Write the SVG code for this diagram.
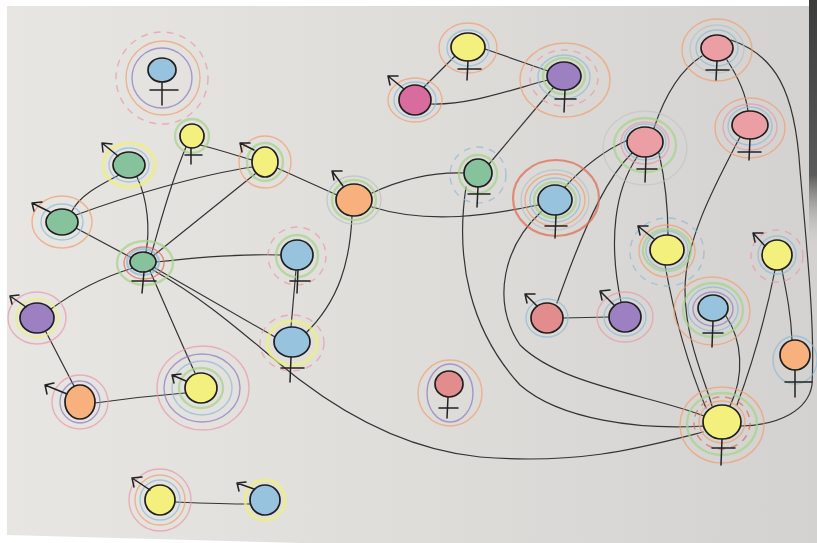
<svg xmlns="http://www.w3.org/2000/svg" width="817" height="543" viewBox="0 0 817 543">
<defs>
<linearGradient id="paper" x1="0" y1="0" x2="1" y2="0">
<stop offset="0" stop-color="#e8e6e2"/>
<stop offset="0.5" stop-color="#dfddda"/>
<stop offset="1" stop-color="#d3d2d0"/>
</linearGradient>
<linearGradient id="edge" x1="0" y1="0" x2="0" y2="1">
<stop offset="0" stop-color="#3c3c3c"/>
<stop offset="0.7" stop-color="#5a5a5a"/>
<stop offset="1" stop-color="#d2d1cf" stop-opacity="0"/>
</linearGradient>
<style>
.o{stroke:#1f1f1f;stroke-width:1.7}
.ln{fill:none;stroke:#333;stroke-width:1.2;stroke-linecap:round}
.sym{fill:none;stroke:#222;stroke-width:1.5;stroke-linecap:round;stroke-linejoin:round}
.r{fill:none;stroke-width:1.4;opacity:.72}
.ro{stroke:#f0a070}.rb{stroke:#8fbad6}.rg{stroke:#a6d38a;stroke-width:2.4}.ry{stroke:#eef07a;stroke-width:3.2}
.rp{stroke:#e79aa8}.rv{stroke:#8c7cc0}.rr{stroke:#e06a55;stroke-width:2.2}.rd{stroke-dasharray:7 6}.rgr{stroke:#b9c2bf}
.fb{fill:#98c3df}.fg{fill:#86c29b}.fy{fill:#f3f07e}.fo{fill:#f8b07c}.fp{fill:#eb9fa4}.fr{fill:#e28c8d}.fm{fill:#d96c9f}.fv{fill:#9c80c2}
</style>
</defs>
<rect width="817" height="543" fill="#ffffff"/>
<polygon points="7,6 817,6 817,543 300,543 7,535" fill="url(#paper)"/>
<rect x="809" y="0" width="8" height="250" fill="url(#edge)"/>

<g id="connectors">
<path class="ln" d="M137,177 C148,200 150,230 146,252"/>
<path class="ln" d="M119,175 C100,185 80,195 72,211"/>
<path class="ln" d="M76,215 C130,195 200,175 252,167"/>
<path class="ln" d="M74,227 L132,258"/>
<path class="ln" d="M186,147 C168,190 160,225 151,255"/>
<path class="ln" d="M200,145 C220,150 235,155 252,160"/>
<path class="ln" d="M255,174 L153,256"/>
<path class="ln" d="M277,168 L337,195"/>
<path class="ln" d="M156,262 C200,257 250,254 281,255"/>
<path class="ln" d="M133,268 C100,278 70,295 51,309"/>
<path class="ln" d="M150,271 C165,305 180,340 195,373"/>
<path class="ln" d="M155,268 L275,337"/>
<path class="ln" d="M153,270 C215,305 255,345 300,380 C350,418 410,450 480,457 C580,465 640,448 703,432"/>
<path class="ln" d="M296,270 L291,327"/>
<path class="ln" d="M352,216 C350,260 340,300 305,334"/>
<path class="ln" d="M372,193 C400,180 430,172 464,173"/>
<path class="ln" d="M372,207 C430,225 490,215 538,205"/>
<path class="ln" d="M424,87 L455,56"/>
<path class="ln" d="M431,104 C470,105 510,90 548,80"/>
<path class="ln" d="M485,49 L548,71"/>
<path class="ln" d="M489,164 L553,88"/>
<path class="ln" d="M466,187 C455,260 470,330 520,385 C560,420 640,430 704,426"/>
<path class="ln" d="M541,212 C505,245 490,300 520,345 C560,385 650,395 704,416"/>
<path class="ln" d="M565,187 C585,165 605,150 628,140"/>
<path class="ln" d="M632,153 C610,175 590,210 557,303"/>
<path class="ln" d="M637,157 C615,190 608,240 621,302"/>
<path class="ln" d="M654,128 C665,95 680,70 702,56"/>
<path class="ln" d="M659,153 C665,180 668,210 668,235"/>
<path class="ln" d="M727,60 C740,80 746,95 748,111"/>
<path class="ln" d="M731,40 C775,55 795,90 800,170 C808,260 815,330 812,385 C808,410 780,425 741,426"/>
<path class="ln" d="M740,137 C715,185 685,240 685,290 C685,340 705,380 712,406"/>
<path class="ln" d="M665,265 C675,320 690,370 706,408"/>
<path class="ln" d="M726,316 C742,340 745,375 730,406"/>
<path class="ln" d="M775,270 C765,320 750,370 737,405"/>
<path class="ln" d="M782,270 C787,295 791,315 792,340"/>
<path class="ln" d="M563,318 L609,317"/>
<path class="ln" d="M46,332 L74,386"/>
<path class="ln" d="M95,403 C130,398 160,395 185,393"/>
<path class="ln" d="M175,502 C200,503 225,504 250,504"/>
</g>

<g id="n1">
<circle class="r rp rd" cx="162" cy="78" r="46"/>
<circle class="r ro" cx="163" cy="78" r="37"/>
<circle class="r rv" cx="162" cy="78" r="30"/>
<ellipse class="o fb" cx="162" cy="70" rx="14" ry="12"/>
<path class="sym" d="M162,82 L162,105 M150,90 L178,90"/>
</g>
<g id="n2">
<ellipse class="r ry" cx="129" cy="165" rx="26" ry="22"/>
<ellipse class="r rb" cx="129" cy="165" rx="20" ry="17"/>
<ellipse class="o fg" cx="129" cy="165" rx="16" ry="13"/>
<path class="sym" d="M118,156 L102,143 M112,144 L102,143 L103,152"/>
</g>
<g id="n3">
<circle class="r rg" cx="192" cy="136" r="17"/>
<circle class="o fy" cx="192" cy="136" r="12"/>
<path class="sym" d="M191,148 L191,164 M185,155 L202,155"/>
</g>
<g id="n4">
<circle class="r ro" cx="265" cy="162" r="26"/>
<ellipse class="r rg" cx="265" cy="162" rx="18" ry="19"/>
<ellipse class="o fy" cx="265" cy="162" rx="13" ry="15"/>
<path class="sym" d="M254,150 L240,143 M250,143 L240,143 L242,152"/>
</g>
<g id="n5">
<ellipse class="r ro" cx="62" cy="222" rx="30" ry="26"/>
<ellipse class="r rb" cx="62" cy="222" rx="21" ry="18"/>
<ellipse class="o fg" cx="62" cy="222" rx="16" ry="13"/>
<path class="sym" d="M50,212 L32,203 M42,202 L32,203 L34,211"/>
</g>
<g id="n6">
<ellipse class="r rg" cx="145" cy="263" rx="28" ry="22"/>
<ellipse class="r rr" cx="144" cy="263" rx="20" ry="16" style="stroke-width:1.4"/>
<ellipse class="r rb" cx="143" cy="262" rx="16" ry="13" style="stroke-width:2.4"/>
<ellipse class="o fg" cx="143" cy="262" rx="13" ry="10"/>
<path class="sym" d="M144,272 L142,293 M132,281 L156,281"/>
</g>
<g id="n7">
<circle class="r rp rd" cx="297" cy="256" r="29"/>
<circle class="r rg" cx="297" cy="256" r="21"/>
<ellipse class="o fb" cx="297" cy="255" rx="16" ry="15"/>
<path class="sym" d="M298,270 L297,293 M290,281 L310,281"/>
</g>
<g id="n8">
<ellipse class="r rp rd" cx="292" cy="343" rx="32" ry="28"/>
<ellipse class="r ry" cx="292" cy="343" rx="25" ry="22"/>
<ellipse class="o fb" cx="292" cy="342" rx="18" ry="15"/>
<path class="sym" d="M291,357 L290,382 M281,368 L304,368"/>
</g>
<g id="n9">
<ellipse class="r rgr" cx="354" cy="200" rx="27" ry="24"/>
<ellipse class="r rg" cx="354" cy="200" rx="22" ry="20"/>
<ellipse class="o fo" cx="354" cy="200" rx="18" ry="16"/>
<path class="sym" d="M343,186 L332,171 M342,171 L332,171 L334,180"/>
</g>
<g id="n10">
<ellipse class="r ro" cx="415" cy="100" rx="27" ry="22"/>
<ellipse class="r rb" cx="415" cy="100" rx="21" ry="18"/>
<ellipse class="o fm" cx="415" cy="100" rx="16" ry="15"/>
<path class="sym" d="M404,89 L388,76 M398,76 L388,76 L390,85"/>
</g>
<g id="n11">
<ellipse class="r ro" cx="468" cy="48" rx="29" ry="25"/>
<ellipse class="r rb" cx="468" cy="48" rx="21" ry="18"/>
<ellipse class="o fy" cx="468" cy="47" rx="17" ry="14"/>
<path class="sym" d="M468,61 L467,80 M458,69 L481,69"/>
</g>
<g id="n12">
<ellipse class="r ro" cx="565" cy="80" rx="45" ry="37"/>
<ellipse class="r rp rd" cx="564" cy="78" rx="34" ry="28"/>
<ellipse class="r rb" cx="564" cy="77" rx="26" ry="22"/>
<ellipse class="r rg" cx="564" cy="76" rx="21" ry="18"/>
<ellipse class="o fv" cx="564" cy="76" rx="17" ry="14"/>
<path class="sym" d="M565,90 L564,112 M555,99 L576,99"/>
</g>
<g id="n13">
<circle class="r rb rd" cx="478" cy="175" r="28"/>
<circle class="r rg" cx="478" cy="174" r="19"/>
<circle class="o fg" cx="478" cy="173" r="14"/>
<path class="sym" d="M478,187 L477,207 M468,194 L490,194"/>
</g>
<g id="n14">
<ellipse class="r rr" cx="556" cy="198" rx="43" ry="38"/>
<ellipse class="r rgr" cx="555" cy="200" rx="34" ry="30"/>
<ellipse class="r ro" cx="555" cy="200" rx="30" ry="26"/>
<ellipse class="r rb" cx="555" cy="200" rx="25" ry="22"/>
<ellipse class="r rg" cx="555" cy="200" rx="21" ry="18"/>
<ellipse class="o fb" cx="555" cy="200" rx="17" ry="15"/>
<path class="sym" d="M556,215 L555,238 M545,226 L567,226"/>
</g>
<g id="n15">
<ellipse class="r rgr" cx="645" cy="148" rx="42" ry="37" style="opacity:.55"/>
<ellipse class="r rg" cx="645" cy="145" rx="31" ry="27"/>
<ellipse class="r rp" cx="645" cy="143" rx="24" ry="21"/>
<ellipse class="r rb" cx="645" cy="142" rx="21" ry="18"/>
<ellipse class="o fp" cx="645" cy="142" rx="18" ry="15"/>
<path class="sym" d="M646,157 L645,182 M637,169 L657,169"/>
</g>
<g id="n16">
<ellipse class="r ro" cx="717" cy="50" rx="35" ry="31"/>
<ellipse class="r rgr" cx="717" cy="49" rx="27" ry="24"/>
<ellipse class="r rb" cx="717" cy="48" rx="21" ry="18"/>
<ellipse class="o fp" cx="717" cy="48" rx="16" ry="13"/>
<path class="sym" d="M717,61 L716,80 M706,70 L729,70"/>
</g>
<g id="n17">
<ellipse class="r ro" cx="750" cy="128" rx="35" ry="30"/>
<ellipse class="r rp" cx="750" cy="127" rx="27" ry="23"/>
<ellipse class="r rb" cx="750" cy="126" rx="22" ry="19"/>
<ellipse class="o fp" cx="750" cy="125" rx="18" ry="14"/>
<path class="sym" d="M750,139 L749,160 M738,152 L761,152"/>
</g>
<g id="n18">
<ellipse class="r rb rd" cx="667" cy="252" rx="37" ry="34"/>
<ellipse class="r ro" cx="667" cy="251" rx="28" ry="26"/>
<ellipse class="r rg" cx="667" cy="250" rx="24" ry="21"/>
<ellipse class="r rb" cx="667" cy="250" rx="21" ry="19"/>
<ellipse class="o fy" cx="667" cy="250" rx="17" ry="15"/>
<path class="sym" d="M654,239 L638,226 M648,226 L638,226 L640,235"/>
</g>
<g id="n19">
<circle class="r rp rd" cx="777" cy="256" r="26"/>
<circle class="r rb" cx="777" cy="255" r="19"/>
<circle class="o fy" cx="777" cy="255" r="15"/>
<path class="sym" d="M765,246 L753,233 M763,233 L753,233 L755,242"/>
</g>
<g id="n20">
<ellipse class="r rb" cx="547" cy="318" rx="21" ry="19"/>
<ellipse class="o fr" cx="547" cy="318" rx="16" ry="15"/>
<path class="sym" d="M537,306 L525,294 M535,294 L525,294 L527,303"/>
</g>
<g id="n21">
<ellipse class="r rp" cx="625" cy="317" rx="28" ry="25"/>
<ellipse class="r rb" cx="625" cy="317" rx="21" ry="19"/>
<ellipse class="o fv" cx="625" cy="317" rx="16" ry="15"/>
<path class="sym" d="M614,305 L600,291 M610,290 L600,291 L602,300"/>
</g>
<g id="n22">
<ellipse class="r ro" cx="712" cy="311" rx="38" ry="34"/>
<ellipse class="r rg" cx="713" cy="310" rx="30" ry="27"/>
<ellipse class="r rb" cx="713" cy="309" rx="25" ry="22"/>
<ellipse class="r rv" cx="713" cy="309" rx="20" ry="17"/>
<ellipse class="o fb" cx="713" cy="308" rx="15" ry="13"/>
<path class="sym" d="M713,321 L712,347 M703,333 L723,333"/>
</g>
<g id="n23">
<ellipse class="r rb" cx="795" cy="360" rx="22" ry="24"/>
<circle class="o fo" cx="795" cy="355" r="15"/>
<path class="sym" d="M795,370 L795,397 M785,382 L812,382"/>
</g>
<g id="n24">
<ellipse class="r ro" cx="722" cy="425" rx="42" ry="38"/>
<ellipse class="r rg" cx="722" cy="424" rx="35" ry="31"/>
<ellipse class="r rr rd" cx="722" cy="423" rx="28" ry="26" style="stroke-width:1.5"/>
<ellipse class="r ro" cx="722" cy="422" rx="23" ry="21"/>
<ellipse class="o fy" cx="722" cy="422" rx="19" ry="17"/>
<path class="sym" d="M722,439 L721,465 M712,448 L735,448"/>
</g>
<g id="n25">
<ellipse class="r ro" cx="450" cy="393" rx="32" ry="33"/>
<ellipse class="r rv" cx="450" cy="393" rx="23" ry="29"/>
<ellipse class="o fr" cx="449" cy="384" rx="14" ry="13"/>
<path class="sym" d="M448,397 L447,418 M439,408 L458,408"/>
</g>
<g id="n26">
<ellipse class="r rp" cx="37" cy="318" rx="29" ry="26"/>
<ellipse class="r ry" cx="37" cy="318" rx="21" ry="19" style="stroke-width:2"/>
<ellipse class="o fv" cx="37" cy="318" rx="17" ry="15"/>
<path class="sym" d="M26,307 L10,296 M19,295 L10,296 L12,304"/>
</g>
<g id="n27">
<ellipse class="r rp" cx="80" cy="402" rx="28" ry="27"/>
<ellipse class="r rv" cx="80" cy="402" rx="20" ry="21"/>
<ellipse class="o fo" cx="80" cy="402" rx="15" ry="17"/>
<path class="sym" d="M67,394 L45,385 M54,383 L45,385 L47,394"/>
</g>
<g id="n28">
<ellipse class="r rp" cx="203" cy="388" rx="46" ry="42"/>
<ellipse class="r rv" cx="202" cy="388" rx="38" ry="34"/>
<ellipse class="r rb" cx="202" cy="388" rx="30" ry="27"/>
<ellipse class="r rg" cx="201" cy="388" rx="22" ry="20"/>
<ellipse class="o fy" cx="201" cy="388" rx="16" ry="15"/>
<path class="sym" d="M186,381 L172,375 M181,374 L172,375 L174,383"/>
</g>
<g id="n29">
<circle class="r rp" cx="160" cy="500" r="31"/>
<circle class="r ro" cx="160" cy="500" r="25"/>
<circle class="r rb" cx="160" cy="500" r="20"/>
<circle class="o fy" cx="160" cy="500" r="15"/>
<path class="sym" d="M150,490 L132,478 M142,477 L132,478 L134,487"/>
</g>
<g id="n30">
<circle class="r ry" cx="265" cy="500" r="20"/>
<circle class="o fb" cx="265" cy="500" r="15"/>
<path class="sym" d="M254,489 L237,483 M246,482 L237,483 L239,491"/>
</g>
</svg>
